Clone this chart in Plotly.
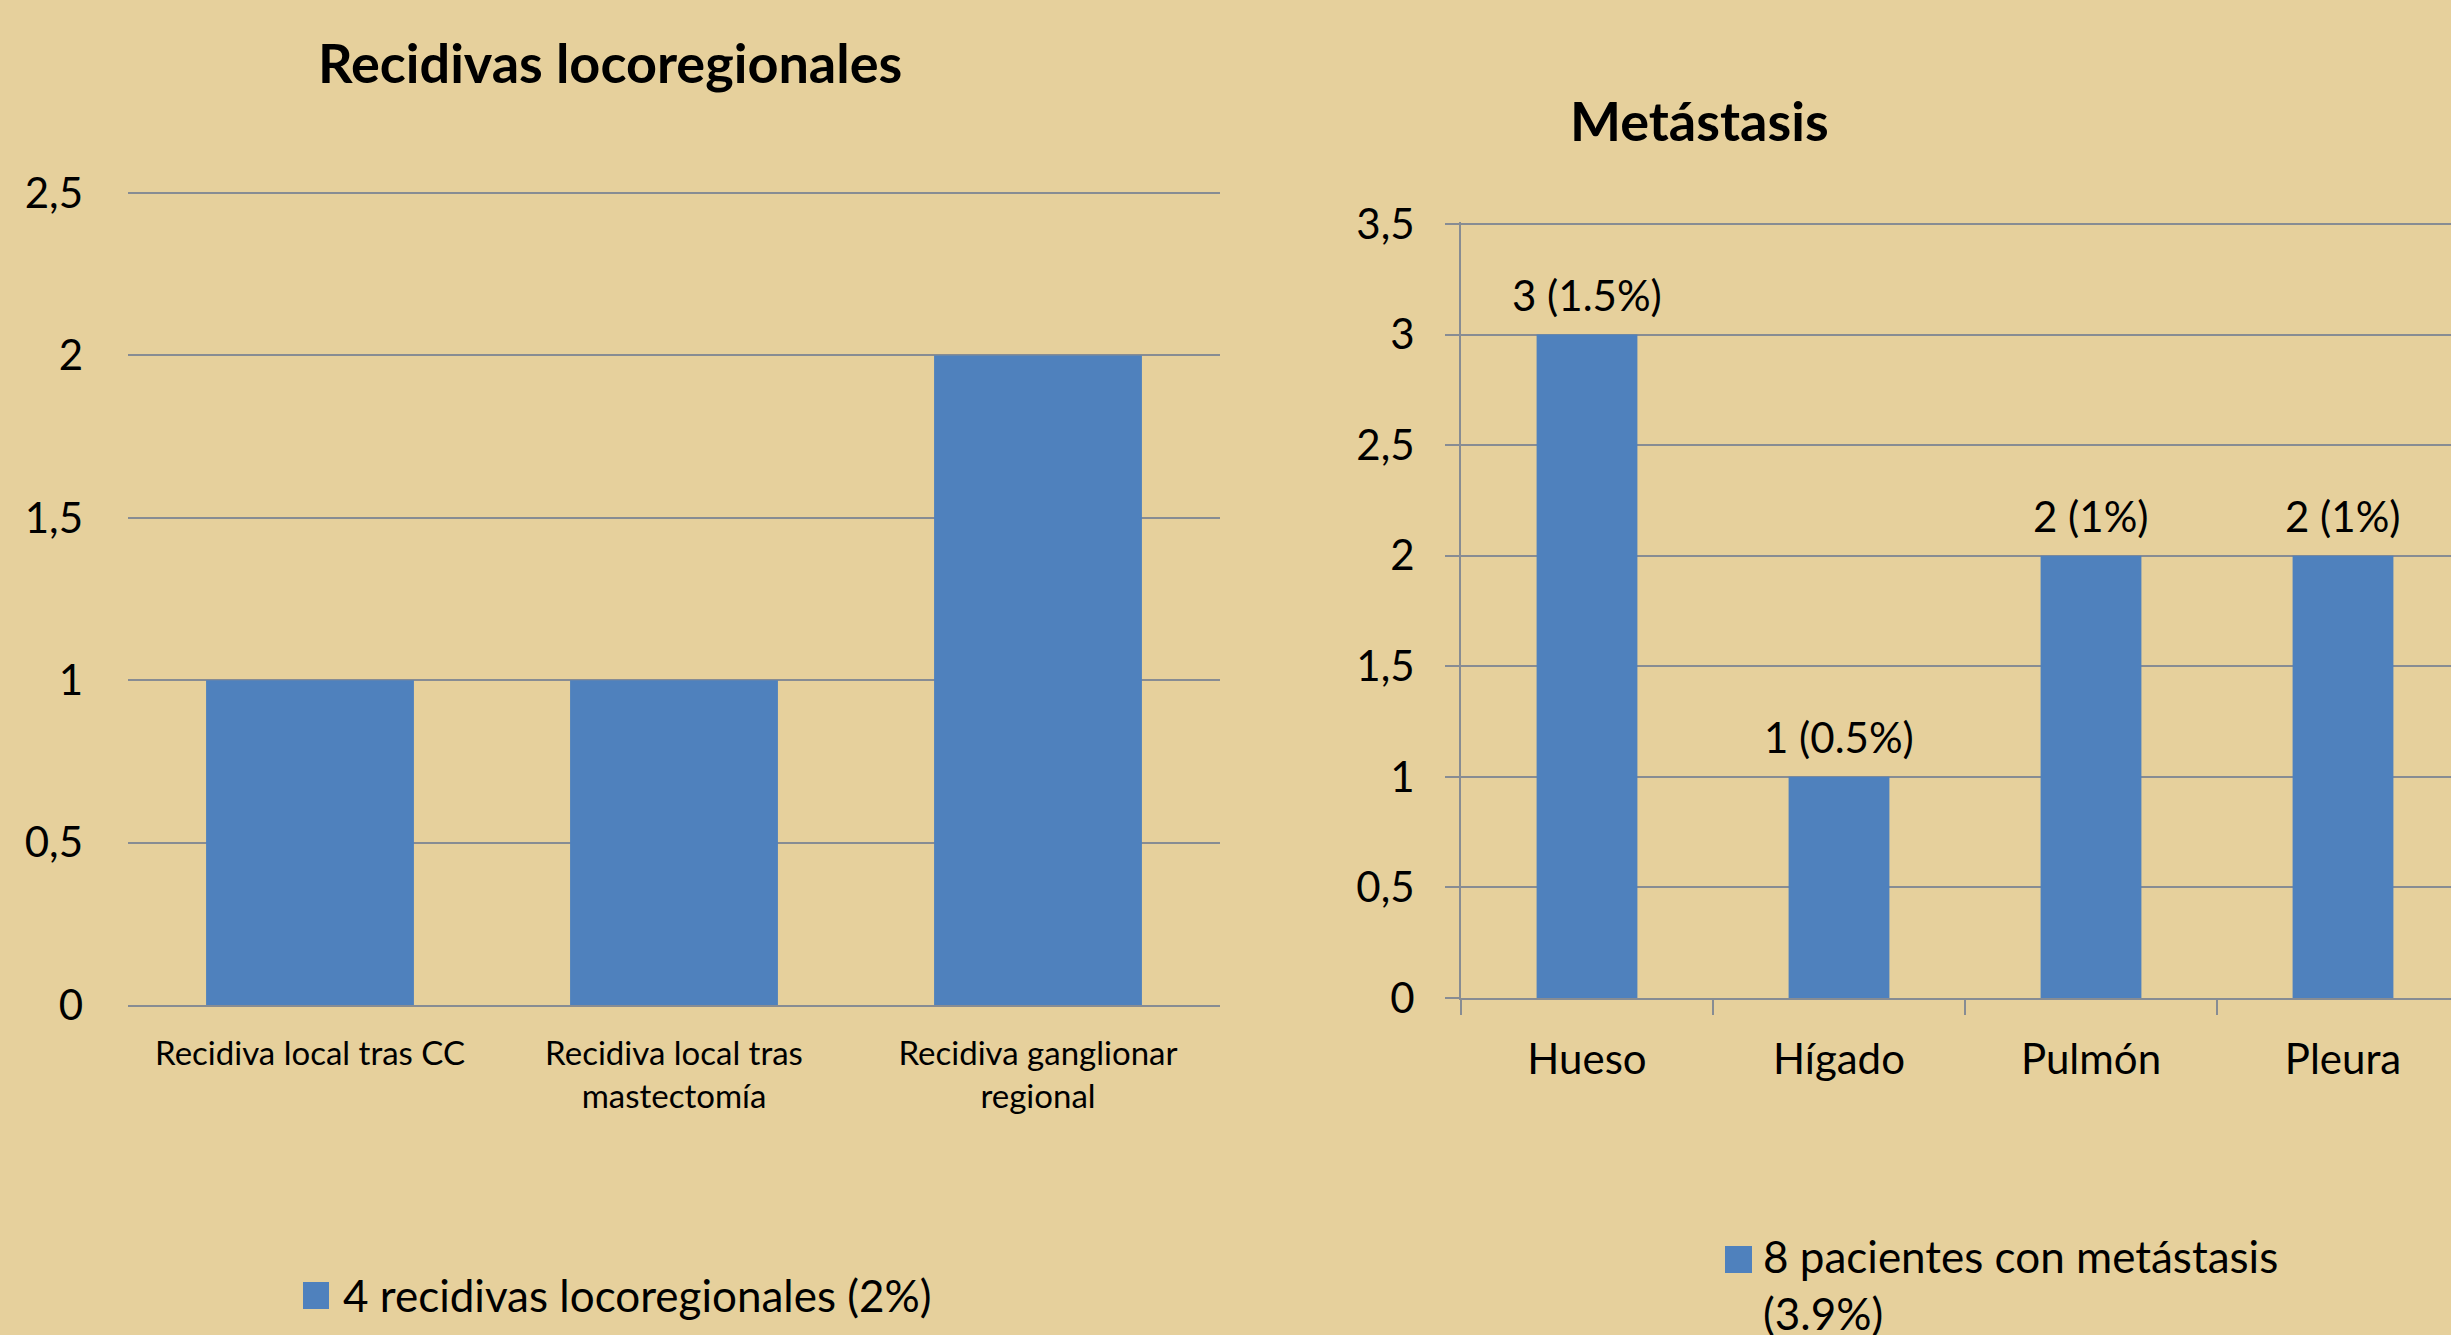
import plotly.graph_objects as go

# --- Recidivas locorregionales ---
recidiva_categorias = [
    "Recidiva local tras CC",
    "Recidiva local tras mastectomía",
    "Recidiva ganglionar regional",
]
recidiva_etiquetas = [
    "Recidiva local tras CC",
    "Recidiva local tras<br>mastectomía",
    "Recidiva ganglionar<br>regional",
]
recidiva_valores = [1, 1, 2]
recidiva_titulo = "Recidivas locoregionales"
recidiva_leyenda = "4 recidivas locoregionales (2%)"
recidiva_ticks = [0, 0.5, 1, 1.5, 2, 2.5]
recidiva_tick_textos = ["0", "0,5", "1", "1,5", "2", "2,5"]

# --- Metástasis ---
metastasis_categorias = ["Hueso", "Hígado", "Pulmón", "Pleura"]
metastasis_valores = [3, 1, 2, 2]
metastasis_porcentajes = ["1.5", "0.5", "1", "1"]
metastasis_titulo = "Metástasis"
metastasis_leyenda = "8 pacientes con metástasis<br>(3.9%)"
metastasis_ticks = [0, 0.5, 1, 1.5, 2, 2.5, 3, 3.5]
metastasis_tick_textos = ["0", "0,5", "1", "1,5", "2", "2,5", "3", "3,5"]

W, H = 2451, 1335
FONT = "Lato"
BAR = "#4F81BD"
GRID = "#878C93"
BG = "#E6D09C"


def px(x):
    return x / W


def py(y):
    return 1 - y / H


fig = go.Figure()

fig.add_trace(go.Bar(
    x=recidiva_categorias, y=recidiva_valores, width=0.571,
    marker=dict(color=BAR, line=dict(width=0)),
    name=recidiva_leyenda, xaxis="x", yaxis="y", hoverinfo="skip",
))

fig.add_trace(go.Bar(
    x=metastasis_categorias, y=metastasis_valores, width=0.4,
    marker=dict(color=BAR, line=dict(width=0)),
    name=metastasis_leyenda, xaxis="x2", yaxis="y2", hoverinfo="skip",
))

annotations = []
# value labels above each metastasis bar
for cat, val, pct in zip(metastasis_categorias, metastasis_valores, metastasis_porcentajes):
    annotations.append(dict(
        x=cat, y=val, xref="x2", yref="y2", text=f"{val} ({pct}%)",
        showarrow=False, yanchor="bottom", yshift=13,
        font=dict(family=FONT, size=42, color="black"),
    ))

# chart titles
annotations.append(dict(
    x=px(610), y=py(62), xref="paper", yref="paper", text=f"<b>{recidiva_titulo}</b>",
    showarrow=False, xanchor="center", yanchor="middle",
    font=dict(family=FONT, size=54, color="black"),
))
annotations.append(dict(
    x=px(1699), y=py(121), xref="paper", yref="paper", text=f"<b>{metastasis_titulo}</b>",
    showarrow=False, xanchor="center", yanchor="middle",
    font=dict(family=FONT, size=54, color="black"),
))

# legend texts
annotations.append(dict(
    x=px(341), y=py(1295), xref="paper", yref="paper", text=recidiva_leyenda,
    showarrow=False, xanchor="left", yanchor="middle", align="left",
    font=dict(family=FONT, size=44, color="black"),
))
annotations.append(dict(
    x=px(1761), y=py(1228), xref="paper", yref="paper", text=metastasis_leyenda,
    showarrow=False, xanchor="left", yanchor="top", align="left",
    font=dict(family=FONT, size=44, color="black"),
))

# legend swatches
shapes = [
    dict(type="rect", xref="paper", yref="paper",
         x0=px(303), x1=px(329), y0=py(1309), y1=py(1282),
         fillcolor=BAR, line=dict(width=0)),
    dict(type="rect", xref="paper", yref="paper",
         x0=px(1725), x1=px(1752), y0=py(1273), y1=py(1246),
         fillcolor=BAR, line=dict(width=0)),
]

# a hair of headroom so the top gridline is kept at the plot edge
Y1_TOP, Y2_TOP = 2.5 + 2 / 325, 3.5 + 2 / 220.7

fig.update_layout(
    width=W, height=H, autosize=False,
    margin=dict(l=0, r=0, t=0, b=0, pad=0),
    paper_bgcolor=BG, plot_bgcolor="rgba(0,0,0,0)",
    showlegend=False,
    font=dict(family=FONT, color="black"),
    annotations=annotations,
    shapes=shapes,
    xaxis=dict(
        domain=[px(128), px(1220)], range=[-0.5, 2.5],
        tickvals=recidiva_categorias, ticktext=recidiva_etiquetas,
        tickfont=dict(family=FONT, size=33, color="black"),
        showgrid=False, showline=True, linecolor=GRID, linewidth=2,
        ticks="", ticklabelstandoff=18, anchor="y", fixedrange=True,
        automargin=False,
    ),
    yaxis=dict(
        domain=[1 - 1005 / H, 1 - 191 / H], range=[0, Y1_TOP],
        tickvals=recidiva_ticks, ticktext=recidiva_tick_textos,
        tickfont=dict(family=FONT, size=42, color="black"),
        showgrid=True, gridcolor=GRID, gridwidth=2,
        showline=False, zeroline=False, ticks="",
        ticklabelstandoff=44, anchor="x", fixedrange=True,
        automargin=False,
    ),
    xaxis2=dict(
        domain=[px(1461), 1.0], range=[-0.5, -0.5 + 990 / 252],
        tickvals=metastasis_categorias, ticktext=metastasis_categorias,
        tickfont=dict(family=FONT, size=42, color="black"),
        showgrid=False, showline=True, linecolor=GRID, linewidth=2,
        ticks="outside", tickson="boundaries", ticklen=15, tickcolor=GRID, tickwidth=2,
        ticklabelstandoff=24, anchor="y2", fixedrange=True,
        automargin=False,
    ),
    yaxis2=dict(
        domain=[1 - 998 / H, 1 - 222 / H], range=[0, Y2_TOP],
        tickvals=metastasis_ticks, ticktext=metastasis_tick_textos,
        tickfont=dict(family=FONT, size=42, color="black"),
        showgrid=True, gridcolor=GRID, gridwidth=2,
        showline=True, linecolor=GRID, linewidth=2, zeroline=False,
        ticks="outside", ticklen=14, tickcolor=GRID, tickwidth=2,
        ticklabelstandoff=22, anchor="x2", fixedrange=True,
        automargin=False,
    ),
)

fig.write_html("out.html", config={"displayModeBar": False})
